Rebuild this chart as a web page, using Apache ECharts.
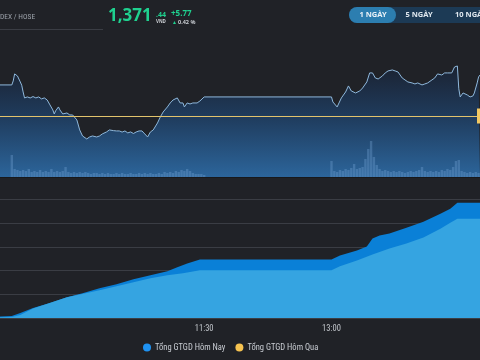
<!DOCTYPE html>
<html><head><meta charset="utf-8">
<script src="https://cdn.jsdelivr.net/npm/echarts@6/dist/echarts.min.js"></script>
<style>html,body{margin:0;padding:0;background:#202227;}#c{width:480px;height:360px;}</style>
</head><body><div id="c"></div>
<script>
// ---- data ----
const tickLabels = ['9:00', '11:30', '13:00'];
const refPrice = 1365.67;
const lastPrice = '1,371';
const lastDecimals = '.44';
const change = '+5.77';
const changePct = '0.42 %';

const priceTimes = ['9:00','9:14','9:15','9:16','9:18','9:20','9:21','9:22','9:23','9:25','9:27','9:29','9:31','9:33','9:35','9:37','9:39','9:41','9:43','9:44','9:45','9:47','9:48','9:50','9:53','9:55','9:57','10:00','10:02','10:04','10:07','10:09','10:11','10:14','10:16','10:18','10:21','10:23','10:26','10:28','10:30','10:32','10:34','10:36','10:38','10:40','10:42','10:44','10:46','10:48','10:50','10:52','10:54','10:57','10:59','11:01','11:04','11:06','11:08','11:11','11:13','11:15','11:16','11:18','11:20','11:22','11:25','11:27','11:30','13:00','13:01','13:04','13:07','13:10','13:12','13:14','13:17','13:20','13:22','13:25','13:27','13:29','13:31','13:33','13:36','13:38','13:40','13:43','13:45','13:47','13:50','13:52','13:54','13:57','13:59','14:01','14:04','14:06','14:08','14:11','14:13','14:15','14:18','14:20','14:22','14:25','14:26','14:27','14:29','14:30','14:31','14:33','14:36','14:38','14:40','14:41','14:43','14:44','14:45'];
const priceValues = [1370.04,1370.04,1370.60,1371.59,1371.30,1370.46,1370.00,1369.05,1368.21,1368.35,1368.21,1368.40,1368.21,1368.35,1368.07,1368.21,1367.92,1367.22,1366.52,1365.95,1366.40,1366.94,1366.52,1365.95,1366.09,1365.81,1365.81,1365.11,1363.70,1362.85,1362.43,1362.71,1362.85,1362.71,1362.85,1363.14,1363.42,1363.70,1363.60,1363.56,1363.56,1363.40,1363.56,1363.28,1363.42,1363.20,1363.42,1363.56,1363.56,1363.14,1362.71,1363.42,1363.70,1364.68,1365.53,1366.23,1366.94,1367.50,1367.92,1368.21,1367.50,1367.50,1366.94,1367.50,1367.36,1367.50,1367.50,1367.78,1368.35,1368.35,1367.64,1366.94,1368.21,1369.05,1369.90,1369.19,1368.91,1369.19,1369.61,1370.46,1371.73,1371.73,1371.02,1370.88,1371.30,1371.73,1372.01,1372.15,1372.01,1371.87,1371.02,1370.74,1370.46,1370.32,1370.18,1370.32,1370.04,1370.18,1370.32,1370.74,1371.02,1371.59,1371.44,1371.73,1371.73,1371.73,1372.15,1372.57,1372.71,1369.50,1368.35,1368.91,1368.63,1368.35,1368.49,1368.91,1370.32,1371.16,1371.44];

// volume, one value every 2 minutes from each session start
const volMorningStart = '9:14';
const volMorning = [22,8,7,6,7,6,8,5,6,5,7,5,6,5,8,5,6,5,6,10,5,4,5,4,5,4,5,4,3,4,4,3,4,3,4,3,3,4,3,4,3,3,4,3,3,4,3,4,3,4,3,3,4,3,5,4,5,4,6,5,7,6,8,6,4,3,3,3,2];
const volAfternoonStart = '13:00';
const volAfternoon = [16,6,5,7,6,8,7,9,13,8,9,10,18,28,36,20,12,8,6,7,6,5,6,5,6,5,4,5,6,5,6,7,10,6,5,6,5,6,5,7,6,8,7,10,16,17,6,5,4,5,4,5,4];

const gtgdTimesToday = ['9:00','9:14','9:20','9:29','9:41','9:53','10:04','10:16','10:28','10:40','10:52','11:04','11:11','11:18','11:27','11:30','13:00','13:06','13:18','13:25','13:29','13:34','13:41','13:53','14:05','14:17','14:24','14:29','14:45'];
const gtgdToday = [300,400,1050,2100,3150,4400,5250,6300,7130,8180,9020,9860,10700,11540,12380,12380,12380,13220,14270,15110,16780,17410,17830,19090,20350,22030,23080,24340,24340];
const gtgdTimesYesterday = ['9:00','9:14','9:20','9:29','9:53','10:16','10:28','10:40','10:52','11:04','11:15','11:27','11:30','13:00','13:06','13:18','13:29','13:41','13:53','14:05','14:17','14:24','14:29','14:45'];
const gtgdYesterday = [150,200,630,2000,4400,5870,6710,7550,8390,9020,9440,10070,10070,10070,10910,12170,13430,14690,15740,16990,18880,20140,20980,20980];

// ---- helpers ----
function toMin(s){const p=s.split(':');return (+p[0]-9)*60 + (+p[1]);}
function pairs(times, vals){return vals.map((v,i)=>[toMin(times[i]), v]);}
function sessionPairs(start, vals){const s=toMin(start);return vals.map((v,i)=>[s+2*i, v]);}
const tickValues = tickLabels.map(toMin);
const labelMap = {}; tickLabels.forEach(l=>{labelMap[toMin(l)]=l;});

const F = 'Noto Sans';
const NF = "'Liberation Sans Narrow', 'Roboto Condensed', Roboto";
const green = '#1fd18f';
const chart = echarts.init(document.getElementById('c'));
chart.setOption({
  animation:false,
  backgroundColor:'#202227',
  textStyle:{fontFamily:F},
  grid:[
    {left:-8, right:0, top:40, height:137, outerBoundsMode:'none', containLabel:false},
    {left:-8, right:0, top:176, height:142, outerBoundsMode:'none', containLabel:false}
  ],
  xAxis:[
    {type:'value', gridIndex:0, min:0, max:345, axisLabel:{show:false}, axisTick:{show:false}, splitLine:{show:false},
     axisLine:{show:true, onZero:false, lineStyle:{color:'#17191d', width:2}}},
    {type:'value', gridIndex:1, min:0, max:345, axisTick:{show:false}, splitLine:{show:false}, axisLine:{show:false},
     axisLabel:{customValues:tickValues, formatter:v=>labelMap[v]||'', color:'#c3c7cc', fontSize:8.5, margin:6, fontFamily:NF}}
  ],
  yAxis:[
    {type:'value', gridIndex:0, min:1357.07, max:1376.37, show:false},
    {type:'value', gridIndex:0, min:0, max:137, show:false},
    {type:'value', gridIndex:1, min:0, max:30000, interval:5000, axisLabel:{show:false}, axisLine:{show:false}, axisTick:{show:false},
     splitLine:{show:true, lineStyle:{color:'#3a3d44', width:1}}}
  ],
  legend:{
    data:[{name:'Tổng GTGD Hôm Nay', itemStyle:{color:'#1e92f2'}},{name:'Tổng GTGD Hôm Qua', itemStyle:{color:'#f6c350'}}],
    left:143, top:343, padding:0, icon:'circle', itemWidth:8, itemHeight:8, itemGap:10,
    textStyle:{color:'#c9cdd3', fontSize:8.5, fontFamily:NF, padding:[0,0,0,-1]}
  },
  series:[
    {type:'line', name:'price', xAxisIndex:0, yAxisIndex:0, data:pairs(priceTimes, priceValues), symbol:'none', z:2,
     lineStyle:{color:'#8fb9dd', width:1},
     areaStyle:{origin:'start', opacity:1, color:new echarts.graphic.LinearGradient(0,0,0,1,[{offset:0,color:'#1b2332'},{offset:0.45,color:'#1f3b5c'},{offset:1,color:'#2c659b'}])},
     markLine:{silent:true, symbol:'none', data:[{yAxis:refPrice}],
       lineStyle:{color:'#e2c36c', width:1, type:'solid'},
       label:{show:true, position:'end', distance:-3, formatter:'1,365.67', backgroundColor:'#f2c862', color:'#222', padding:[3,4], fontSize:9}}
    },
    {type:'bar', name:'vol', xAxisIndex:0, yAxisIndex:1, z:3, barWidth:2.4,
     data:sessionPairs(volMorningStart, volMorning).concat(sessionPairs(volAfternoonStart, volAfternoon)),
     itemStyle:{color:'rgba(125,170,222,0.32)'}},
    {type:'line', name:'Tổng GTGD Hôm Nay', xAxisIndex:1, yAxisIndex:2, data:pairs(gtgdTimesToday, gtgdToday), symbol:'none',
     lineStyle:{width:0}, itemStyle:{color:'#0a80d7'}, areaStyle:{color:'#0a80d7', opacity:1}},
    {type:'line', name:'Tổng GTGD Hôm Qua', xAxisIndex:1, yAxisIndex:2, data:pairs(gtgdTimesYesterday, gtgdYesterday), symbol:'none',
     lineStyle:{width:0}, itemStyle:{color:'#35a4e1'}, areaStyle:{color:'#35a4e1', opacity:1}}
  ],
  graphic:[
    {type:'text', x:0, y:17, style:{text:'DEX / HOSE', fill:'#9ba1a9', fontSize:7.5, fontFamily:NF, verticalAlign:'middle'}},
    {type:'line', shape:{x1:0,y1:29.5,x2:103,y2:29.5}, style:{stroke:'#3a3d44', lineWidth:1}},
    {type:'text', x:108, y:25, style:{text:lastPrice, fill:green, fontSize:17, fontWeight:'bold', fontFamily:F, verticalAlign:'bottom'}},
    {type:'text', x:156, y:18, style:{text:lastDecimals, fill:green, fontSize:7, fontWeight:'bold', fontFamily:F, verticalAlign:'bottom'}},
    {type:'text', x:156, y:24, style:{text:'VND', fill:'#c9cdd2', fontSize:4.5, fontWeight:'bold', fontFamily:F, verticalAlign:'bottom'}},
    {type:'text', x:171, y:18, style:{text:change, fill:green, fontSize:8, fontWeight:'bold', fontFamily:F, verticalAlign:'bottom'}},
    {type:'text', x:172, y:25, style:{text:'▲', fill:green, fontSize:5, fontFamily:F, verticalAlign:'bottom'}},
    {type:'text', x:178, y:25, style:{text:changePct, fill:'#c9cdd2', fontSize:5.5, fontWeight:'bold', fontFamily:F, verticalAlign:'bottom'}},
    {type:'rect', shape:{x:349,y:7,width:150,height:16,r:8}, style:{fill:'#1c3a55'}},
    {type:'rect', shape:{x:349,y:7,width:47,height:16,r:8}, style:{fill:'#2c7eb0'}},
    {type:'text', x:373, y:15, style:{text:'1 NGÀY', fill:'#eaf2f8', fontSize:7.5, fontWeight:'bold', fontFamily:F, align:'center', verticalAlign:'middle'}},
    {type:'text', x:419, y:15, style:{text:'5 NGÀY', fill:'#dfe7ee', fontSize:7.5, fontWeight:'bold', fontFamily:F, align:'center', verticalAlign:'middle'}},
    {type:'text', x:455, y:15, style:{text:'10 NGÀY', fill:'#dfe7ee', fontSize:7.5, fontWeight:'bold', fontFamily:F, align:'left', verticalAlign:'middle'}}
  ]
});
</script></body></html>
